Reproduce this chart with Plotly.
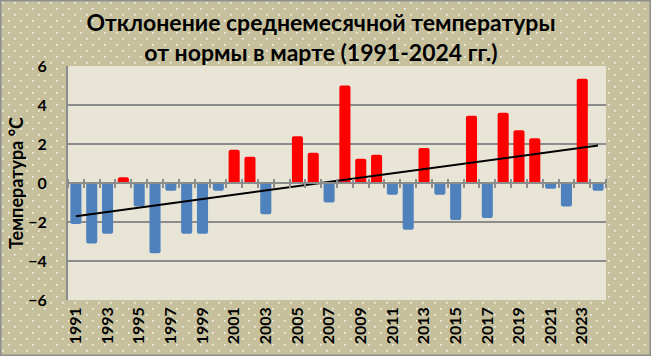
import base64
import numpy as np
import plotly.graph_objects as go

years = list(range(1991, 2025))
anomaly = [-2.1, -3.1, -2.6, 0.3, -1.2, -3.6, -0.4, -2.6, -2.6, -0.4,
           1.7, 1.35, -1.6, 0.0, 2.4, 1.55, -1.0, 5.0, 1.25, 1.45,
           -0.6, -2.4, 1.8, -0.6, -1.9, 3.45, -1.8, 3.6, 2.7, 2.3,
           -0.3, -1.2, 5.35, -0.4]
tick_years = list(range(1991, 2025, 2))
y_ticks = [-6, -4, -2, 0, 2, 4, 6]

title_text = "Отклонение среднемесячной температуры<br>от нормы в марте (1991-2024 гг.)"
y_title = "Температура °С"

RED = "#FF0000"
BLUE = "#4F81BD"
BG = "#C6C09C"
PLOT_BG = "#E8E5D7"
GRID = "#8C8C8C"
FONT = "Lato"

W, H = 651, 356
ML, MR, MT, MB = 68, 45, 66, 56

colors = [RED if v > 0 else BLUE for v in anomaly]
slope, intercept = np.polyfit(years, anomaly, 1)
trend = [slope * y + intercept for y in years]

# dotted background texture
svg = (f'<svg xmlns="http://www.w3.org/2000/svg" width="{W}" height="{H}">'
       '<defs><pattern id="p" width="12" height="12" patternUnits="userSpaceOnUse">'
       f'<rect width="12" height="12" fill="{BG}"/>'
       '<rect x="2" y="2" width="1.6" height="1.6" fill="#FFFFFF" fill-opacity="0.85"/>'
       '<rect x="8" y="8" width="1.6" height="1.6" fill="#FFFFFF" fill-opacity="0.85"/>'
       '</pattern></defs>'
       f'<rect width="{W}" height="{H}" fill="url(#p)"/></svg>')
uri = "data:image/svg+xml;base64," + base64.b64encode(svg.encode()).decode()

pw = W - ML - MR
ph = H - MT - MB

fig = go.Figure()
fig.add_trace(go.Bar(x=years, y=anomaly, marker=dict(color=colors, line=dict(width=0), cornerradius=2),
                     showlegend=False))
fig.add_trace(go.Scatter(x=years, y=trend, mode="lines", line=dict(color="black", width=2),
                         showlegend=False))

fig.update_layout(
    width=W, height=H,
    margin=dict(l=ML, r=MR, t=MT, b=MB, autoexpand=False),
    paper_bgcolor=BG,
    plot_bgcolor=PLOT_BG,
    bargap=0.3,
    title=dict(text=title_text, x=0.493, xanchor="center", y=1 - 31 / H, yanchor="middle",
               font=dict(family=FONT, size=23, color="black", weight="bold")),
    font=dict(family=FONT, color="black"),
    xaxis=dict(range=[1990.5, 2024.5], tickvals=tick_years, ticktext=[str(t) for t in tick_years],
               tickangle=-90, showgrid=False, zeroline=False, showline=False, ticks="",
               tickfont=dict(family=FONT, size=16, weight="bold"), ticklabelstandoff=3,
               automargin=False),
    xaxis2=dict(range=[1990.5, 2024.5], overlaying="x", anchor="free", position=0.5, side="bottom",
                showline=True, linecolor=GRID, linewidth=2, ticks="outside", ticklen=4,
                tickcolor=GRID, tickwidth=2, tick0=1990.5, dtick=1, showticklabels=False,
                showgrid=False, zeroline=False, automargin=False),
    xaxis3=dict(range=[1990.5, 2024.5], overlaying="x", anchor="free", position=0.5, side="top",
                showline=False, ticks="outside", ticklen=4,
                tickcolor=GRID, tickwidth=2, tick0=1990.5, dtick=1, showticklabels=False,
                showgrid=False, zeroline=False, automargin=False),
    yaxis=dict(range=[-6, 6], tickvals=y_ticks, showgrid=True, gridcolor=GRID, gridwidth=2,
               zeroline=False, showline=True, linecolor=GRID, linewidth=2, ticks="",
               tickfont=dict(family=FONT, size=16, weight="bold"), ticklabelstandoff=16,
               automargin=False,
               title=dict(text=y_title, font=dict(family=FONT, size=18, weight="bold"), standoff=0)),
    images=[dict(source=uri, xref="paper", yref="paper",
                 x=-ML / pw, y=1 + MT / ph, sizex=W / pw, sizey=H / ph,
                 xanchor="left", yanchor="top", sizing="stretch", layer="below")],
    shapes=[
        dict(type="rect", xref="paper", yref="paper", x0=0, x1=1, y0=0, y1=1,
             fillcolor=PLOT_BG, line=dict(width=0), layer="below"),
        dict(type="rect", xref="paper", yref="paper",
             x0=-ML / pw + 0.001, x1=1 + MR / pw - 0.001,
             y0=-MB / ph + 0.002, y1=1 + MT / ph - 0.002,
             fillcolor="rgba(0,0,0,0)", line=dict(color="#8F8F8F", width=2), layer="above"),
    ],
)
# invisible traces so the overlay axes render
fig.add_trace(go.Scatter(x=[1990.5], y=[0], xaxis="x2", mode="markers", marker=dict(opacity=0),
                         showlegend=False, hoverinfo="skip"))
fig.add_trace(go.Scatter(x=[1990.5], y=[0], xaxis="x3", mode="markers", marker=dict(opacity=0),
                         showlegend=False, hoverinfo="skip"))

fig.write_html("out.html", config={"displayModeBar": False},
               post_script="document.body.style.margin='0';")
